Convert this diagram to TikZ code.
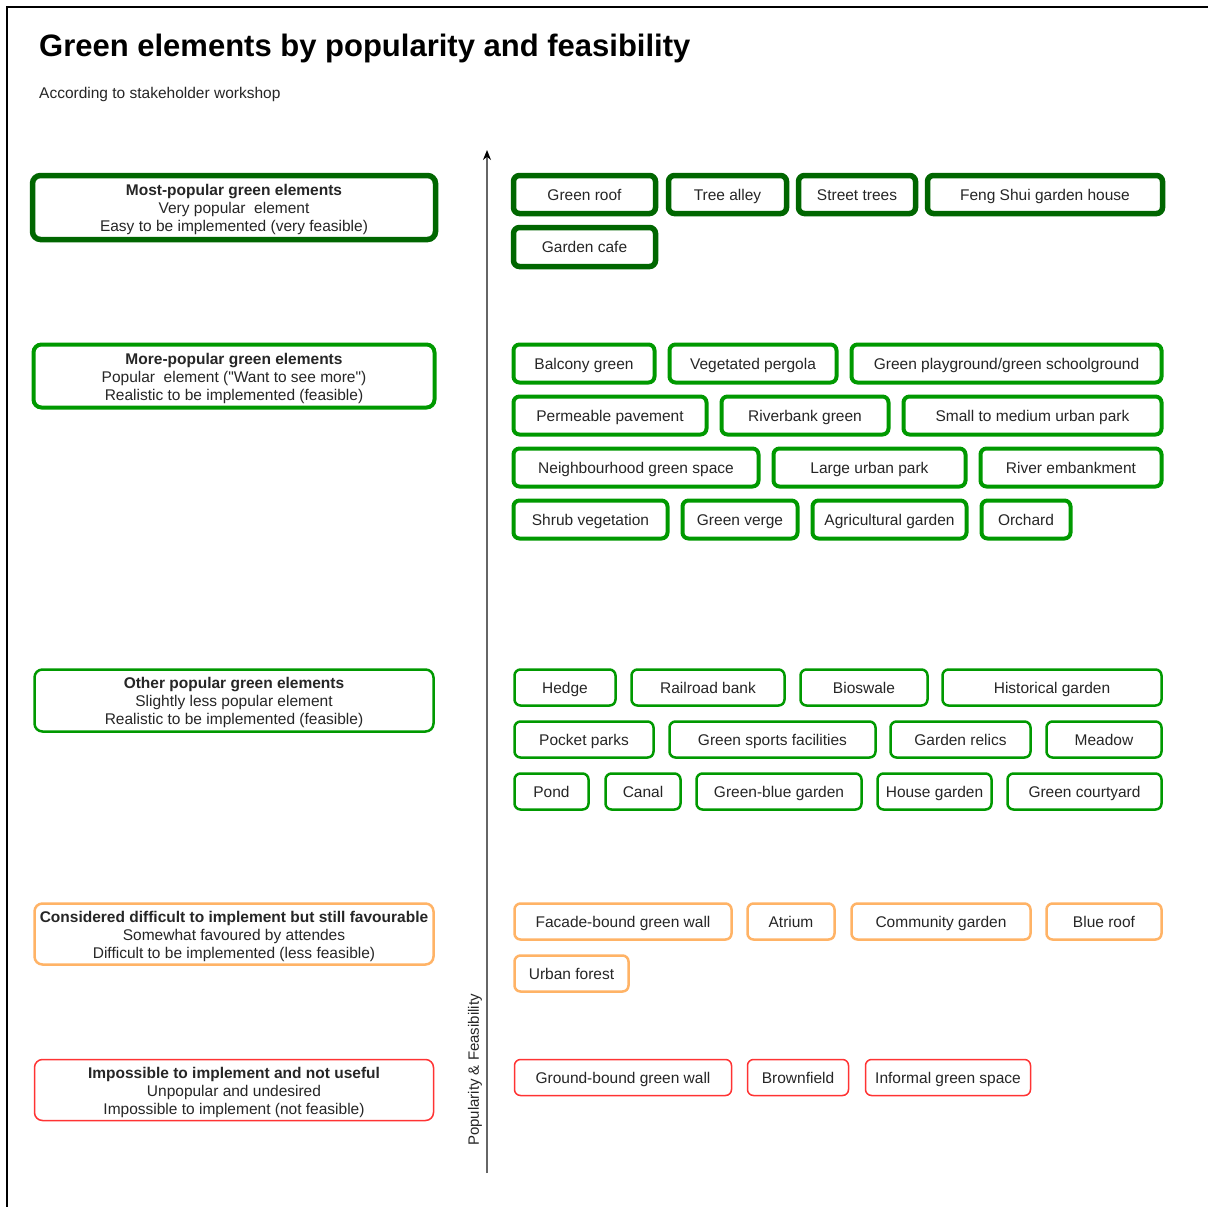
\documentclass[tikz,border=0pt]{standalone}
\usepackage{fontspec}
\setmainfont{Liberation Sans}[Ligatures=TeXOff]
\usetikzlibrary{arrows.meta}
\definecolor{txt}{HTML}{262626}
\definecolor{dkgreen}{HTML}{006600}
\definecolor{mgreen}{HTML}{009900}
\definecolor{lorange}{HTML}{FFB366}
\definecolor{lred}{HTML}{FF3333}
\definecolor{axisgray}{HTML}{666666}
\newcommand{\ebox}[7]{\node[#2, minimum width={#4-#3-3}, minimum height={#6-#5-3}] (#1) at ({(#3+#4)/2},{(#5+#6)/2}) {#7};}
\newcommand{\topstrut}{\rule{0pt}{15.5pt}}
\begin{document}
\begin{tikzpicture}[x=1pt,y=-1pt,
  base/.style={draw, rounded corners=6pt, inner sep=0pt, text=txt, font=\fontsize{15.5}{18}\selectfont, align=center, fill=white},
  one/.style={text height=14pt, text depth=3pt},
  lvlA/.style={base, draw=dkgreen, line width=5.5pt},
  lvlB/.style={base, draw=mgreen, line width=4pt},
  lvlC/.style={base, draw=mgreen, line width=2.5pt},
  lvlD/.style={base, draw=lorange, line width=2.5pt},
  lvlE/.style={base, draw=lred, line width=1.5pt},
  legend/.style={rounded corners=8pt}
]
\useasboundingbox (0,0) rectangle (1208,1207);
\fill[white] (0,0) rectangle (1208,1207);
% frame
\coordinate (fbl) at (7,1207);
\coordinate (ftl) at (7,7);
\coordinate (ftr) at (1208,7);
\draw[line width=2pt, black] (fbl) -- (ftl) -- (ftr);

% title
\node[anchor=base west, inner sep=0pt, font=\fontsize{31}{36}\selectfont\bfseries] (title) at (39,56.5) {Green elements by popularity and feasibility};
\node[anchor=base west, inner sep=0pt, text=txt, font=\fontsize{15.5}{18}\selectfont] (subtitle) at (39,98.5) {According to stakeholder workshop};

% legend boxes
\ebox{L1}{lvlA,legend}{31}{437}{174}{241}{\topstrut\textbf{Most-popular green elements}\\Very popular\ \ element\\Easy to be implemented (very feasible)}
\ebox{L2}{lvlB,legend}{32}{436}{343}{409}{\topstrut\textbf{More-popular green elements}\\Popular\ \ element ("Want to see more")\\Realistic to be implemented (feasible)}
\ebox{L3}{lvlC,legend}{33}{435}{668}{733}{\topstrut\textbf{Other popular green elements}\\Slightly less popular element\\Realistic to be implemented (feasible)}
\ebox{L4}{lvlD,legend}{33}{435}{902}{966}{\topstrut\textbf{Considered difficult to implement but still favourable}\\Somewhat favoured by attendes\\Difficult to be implemented (less feasible)}
\ebox{L5}{lvlE,legend}{33}{435}{1058}{1122}{\topstrut\textbf{Impossible to implement and not useful}\\Unpopular and undesired\\Impossible to implement (not feasible)}

% axis
\coordinate (axb) at (487,1173);
\coordinate (axt) at (487,150);
\draw[axisgray, line width=1.6pt, -{Stealth[length=10pt,width=8pt,black]}] (axb) -- (axt);
\node[rotate=90, inner sep=0pt, text=txt, font=\fontsize{15}{18}\selectfont] (axlabel) at (475,1070) {Popularity \& Feasibility};

% group A
\ebox{a1}{lvlA,one}{512}{657}{174}{215}{Green roof}
\ebox{a2}{lvlA,one}{667}{788}{174}{215}{Tree alley}
\ebox{a3}{lvlA,one}{797}{917}{174}{215}{Street trees}
\ebox{a4}{lvlA,one}{926}{1164}{174}{215}{Feng Shui garden house}
\ebox{a5}{lvlA,one}{512}{657}{226}{268}{Garden cafe}

% group B
\ebox{b1}{lvlB,one}{512}{656}{343}{384}{Balcony green}
\ebox{b2}{lvlB,one}{668}{838}{343}{384}{Vegetated pergola}
\ebox{b3}{lvlB,one}{850}{1163}{343}{384}{Green playground/green schoolground}
\ebox{b4}{lvlB,one}{512}{708}{395}{436}{Permeable pavement}
\ebox{b5}{lvlB,one}{720}{890}{395}{436}{Riverbank green}
\ebox{b6}{lvlB,one}{902}{1163}{395}{436}{Small to medium urban park}
\ebox{b7}{lvlB,one}{512}{760}{447}{488}{Neighbourhood green space}
\ebox{b8}{lvlB,one}{772}{967}{447}{488}{Large urban park}
\ebox{b9}{lvlB,one}{979}{1163}{447}{488}{River embankment}
\ebox{b10}{lvlB,one}{512}{669}{499}{540}{Shrub vegetation}
\ebox{b11}{lvlB,one}{681}{799}{499}{540}{Green verge}
\ebox{b12}{lvlB,one}{811}{968}{499}{540}{Agricultural garden}
\ebox{b13}{lvlB,one}{980}{1072}{499}{540}{Orchard}

% group C
\ebox{c1}{lvlC,one}{513}{617}{668}{707}{Hedge}
\ebox{c2}{lvlC,one}{630}{786}{668}{707}{Railroad bank}
\ebox{c3}{lvlC,one}{799}{929}{668}{707}{Bioswale}
\ebox{c4}{lvlC,one}{941}{1163}{668}{707}{Historical garden}
\ebox{c5}{lvlC,one}{513}{655}{720}{759}{Pocket parks}
\ebox{c6}{lvlC,one}{668}{877}{720}{759}{Green sports facilities}
\ebox{c7}{lvlC,one}{889}{1032}{720}{759}{Garden relics}
\ebox{c8}{lvlC,one}{1045}{1163}{720}{759}{Meadow}
\ebox{c9}{lvlC,one}{513}{590}{772}{811}{Pond}
\ebox{c10}{lvlC,one}{604}{682}{772}{811}{Canal}
\ebox{c11}{lvlC,one}{695}{863}{772}{811}{Green-blue garden}
\ebox{c12}{lvlC,one}{876}{993}{772}{811}{House garden}
\ebox{c13}{lvlC,one}{1006}{1163}{772}{811}{Green courtyard}

% group D
\ebox{d1}{lvlD,one}{513}{733}{902}{941}{Facade-bound green wall}
\ebox{d2}{lvlD,one}{746}{836}{902}{941}{Atrium}
\ebox{d3}{lvlD,one}{850}{1032}{902}{941}{Community garden}
\ebox{d4}{lvlD,one}{1045}{1163}{902}{941}{Blue roof}
\ebox{d5}{lvlD,one}{513}{630}{954}{993}{Urban forest}

% group E
\ebox{e1}{lvlE,one}{513}{733}{1058}{1097}{Ground-bound green wall}
\ebox{e2}{lvlE,one}{746}{850}{1058}{1097}{Brownfield}
\ebox{e3}{lvlE,one}{864}{1032}{1058}{1097}{Informal green space}
\end{tikzpicture}
\end{document}
